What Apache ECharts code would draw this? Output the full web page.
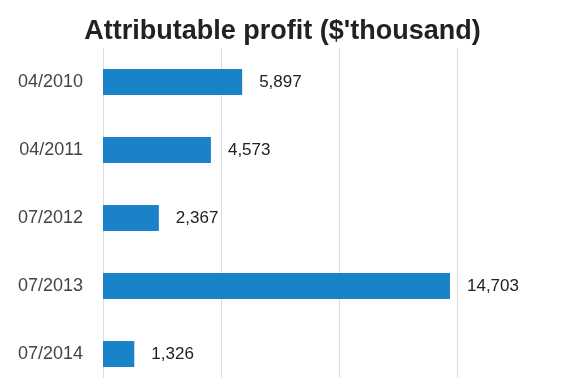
<!DOCTYPE html>
<html>
<head>
<meta charset="utf-8">
<script src="https://cdn.jsdelivr.net/npm/echarts@6/dist/echarts.min.js"></script>
<style>html,body{margin:0;padding:0;background:#fff;overflow:hidden;}#c{width:565px;height:388px;}</style>
</head>
<body>
<div id="c"></div>
<script>
const categories = ['04/2010', '04/2011', '07/2012', '07/2013', '07/2014'];
const profit = [5897, 4573, 2367, 14703, 1326];
const titleText = "Attributable profit ($'thousand)";

const chart = echarts.init(document.getElementById('c'), null, {renderer: 'canvas'});
chart.setOption({
  animation: false,
  backgroundColor: '#fff',
  title: {
    text: titleText,
    left: 'center',
    top: 13,
    textStyle: {fontFamily: 'Liberation Sans, Arial, sans-serif', fontSize: 27, fontWeight: 'bold', color: '#222'}
  },
  grid: {left: 103, top: 48, right: 108, bottom: 0, containLabel: false},
  xAxis: {
    type: 'value', min: 0, max: 15000, interval: 5000,
    axisLabel: {show: false}, axisLine: {show: false}, axisTick: {show: false},
    splitLine: {show: true, lineStyle: {color: '#dddddd', width: 1}}
  },
  yAxis: {
    type: 'category', data: categories, inverse: true,
    axisLine: {show: false}, axisTick: {show: false},
    axisLabel: {color: '#444', fontSize: 18, fontFamily: 'Liberation Sans, Arial, sans-serif', margin: 20}
  },
  series: [{
    type: 'bar', data: profit, barWidth: 26,
    itemStyle: {color: '#1a82c8'},
    label: {
      show: true, position: 'right', distance: 17, color: '#222', fontSize: 17,
      fontFamily: 'Liberation Sans, Arial, sans-serif',
      formatter: p => p.value.toLocaleString('en-US')
    }
  }]
});
</script>
</body>
</html>
